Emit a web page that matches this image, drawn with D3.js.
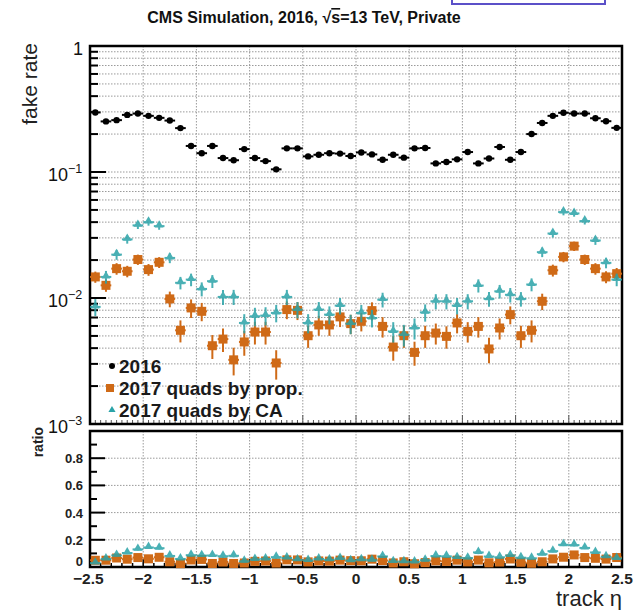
<!DOCTYPE html>
<html>
<head>
<meta charset="utf-8">
<script src="https://cdn.jsdelivr.net/npm/d3@7"></script>
<style>
  body { margin: 0; background: #fff; }
  text { font-family: "Liberation Sans", Arial, sans-serif; }
</style>
</head>
<body>
<script>
// 1. DATA
// ======================================

// bin centres in track eta (bins of 0.1)
var etaCenters = [-2.45, -2.35, -2.25, -2.15, -2.05, -1.95, -1.85, -1.75, -1.65, -1.55,
  -1.45, -1.35, -1.25, -1.15, -1.05, -0.95, -0.85, -0.75, -0.65, -0.55,
  -0.45, -0.35, -0.25, -0.15, -0.05, 0.05, 0.15, 0.25, 0.35, 0.45,
  0.55, 0.65, 0.75, 0.85, 0.95, 1.05, 1.15, 1.25, 1.35, 1.45,
  1.55, 1.65, 1.75, 1.85, 1.95, 2.05, 2.15, 2.25, 2.35, 2.45];

// fake rate 2016
var fake2016 = [0.297, 0.252, 0.258, 0.284, 0.291, 0.279, 0.269, 0.256, 0.223, 0.161,
  0.141, 0.161, 0.129, 0.124, 0.152, 0.129, 0.122, 0.105, 0.154, 0.154,
  0.133, 0.137, 0.141, 0.140, 0.134, 0.143, 0.138, 0.125, 0.137, 0.130,
  0.154, 0.155, 0.117, 0.120, 0.126, 0.144, 0.117, 0.128, 0.158, 0.125,
  0.144, 0.200, 0.245, 0.279, 0.295, 0.291, 0.291, 0.267, 0.253, 0.224];

// fake rate 2017 quads by propagation
var quadsProp = [0.0147, 0.0126, 0.0171, 0.0163, 0.0202, 0.0168, 0.0192, 0.00984, 0.00554, 0.00834,
  0.00784, 0.00418, 0.00472, 0.00323, 0.00448, 0.00537, 0.00537, 0.00305, 0.00809, 0.00798,
  0.00502, 0.00611, 0.00611, 0.00708, 0.00626, 0.00653, 0.00794, 0.00595, 0.00408, 0.00502,
  0.00370, 0.00502, 0.00527, 0.00496, 0.00634, 0.00543, 0.00595, 0.00394, 0.00578, 0.00738,
  0.00502, 0.00554, 0.00942, 0.0166, 0.0212, 0.0258, 0.0202, 0.0171, 0.0147, 0.0156];
var quadsPropErr = [0.0015, 0.0014, 0.0018, 0.0017, 0.0019, 0.0018, 0.0019, 0.0014, 0.0011, 0.0014,
  0.0013, 0.0009, 0.0010, 0.0008, 0.0010, 0.0011, 0.0011, 0.0008, 0.0013, 0.0013,
  0.0010, 0.0011, 0.0011, 0.0012, 0.0011, 0.0011, 0.0013, 0.0011, 0.0009, 0.0010,
  0.0008, 0.0010, 0.0010, 0.0010, 0.0011, 0.0010, 0.0011, 0.0009, 0.0011, 0.0012,
  0.0010, 0.0011, 0.0014, 0.0018, 0.0020, 0.0022, 0.0019, 0.0018, 0.0016, 0.0017];

// fake rate 2017 quads by CA
var quadsCA = [0.0085, 0.0147, 0.0221, 0.0292, 0.0377, 0.0400, 0.0372, 0.0208, 0.0132, 0.0140,
  0.0118, 0.0136, 0.0102, 0.0102, 0.00634, 0.00716, 0.00725, 0.00761, 0.0102, 0.00809,
  0.00634, 0.00809, 0.00738, 0.00870, 0.00626, 0.00761, 0.00694, 0.00971, 0.00543, 0.00512,
  0.00578, 0.00769, 0.00942, 0.00942, 0.00870, 0.00942, 0.01255, 0.00984, 0.0113, 0.0106,
  0.00984, 0.0128, 0.0231, 0.0325, 0.0481, 0.0469, 0.0408, 0.0286, 0.0190, 0.0140];
var quadsCAErr = [0.0013, 0.0017, 0.0020, 0.0022, 0.0024, 0.0025, 0.0024, 0.0019, 0.0015, 0.0016,
  0.0015, 0.0016, 0.0014, 0.0014, 0.0011, 0.0012, 0.0012, 0.0012, 0.0014, 0.0012,
  0.0011, 0.0012, 0.0012, 0.0013, 0.0011, 0.0012, 0.0011, 0.0013, 0.0010, 0.0010,
  0.0011, 0.0012, 0.0013, 0.0013, 0.0013, 0.0013, 0.0015, 0.0013, 0.0014, 0.0014,
  0.0013, 0.0015, 0.0020, 0.0023, 0.0028, 0.0027, 0.0025, 0.0022, 0.0018, 0.0016];

// tick labels
var xTicks = [-2.5, -2, -1.5, -1, -0.5, 0, 0.5, 1, 1.5, 2, 2.5];
var xTickLabels = ["\u22122.5", "\u22122", "\u22121.5", "\u22121", "\u22120.5", "0", "0.5", "1", "1.5", "2", "2.5"];
var yDecades = [1, 0.1, 0.01, 0.001];
var yDecadeExp = ["", "\u22121", "\u22122", "\u22123"];
var ratioTicks = [0, 0.2, 0.4, 0.6, 0.8];
var ratioTickLabels = ["0", "0.2", "0.4", "0.6", "0.8"];

var legendLabels = ["2016", "2017 quads by prop.", "2017 quads by CA"];

// 2. SET UP SVG
// ======================================
var svgWidth = 636;
var svgHeight = 610;

var colBlack = "#000000";
var colOrange = "#cf6a17";
var colTeal = "#2aa3a8";
var gridCol = "#9a9a9a";

var svg = d3.select("body")
  .append("svg")
  .attr("width", svgWidth)
  .attr("height", svgHeight);

var xLeft = 90, xRight = 622;
var topY0 = 46, topY1 = 424;
var ratY0 = 431, ratY1 = 567;

var x = d3.scaleLinear().domain([-2.5, 2.5]).range([xLeft, xRight]);
var y = d3.scaleLog().domain([0.001, 1]).range([topY1, topY0]);
var yr = d3.scaleLinear().domain([0, 1]).range([ratY1, ratY0]);

var halfBin = 0.05;

// 3. GRIDS
// ======================================
var gridG = svg.append("g")
  .attr("stroke", gridCol)
  .attr("stroke-width", 1)
  .attr("stroke-dasharray", "1.5,1.5");

// top panel horizontal (every log minor)
gridG.selectAll("line.gy")
  .data(y.ticks().filter(d => d > 0.001 && d < 1))
  .enter().append("line")
  .attr("x1", xLeft).attr("x2", xRight)
  .attr("y1", d => y(d)).attr("y2", d => y(d));

// top panel vertical
gridG.selectAll("line.gx")
  .data(xTicks.slice(1, -1))
  .enter().append("line")
  .attr("x1", d => x(d)).attr("x2", d => x(d))
  .attr("y1", topY0).attr("y2", topY1);

// ratio panel
gridG.selectAll("line.ry")
  .data(ratioTicks.slice(1))
  .enter().append("line")
  .attr("x1", xLeft).attr("x2", xRight)
  .attr("y1", d => yr(d)).attr("y2", d => yr(d));

gridG.selectAll("line.rx")
  .data(xTicks.slice(1, -1))
  .enter().append("line")
  .attr("x1", d => x(d)).attr("x2", d => x(d))
  .attr("y1", ratY0).attr("y2", ratY1);

// 4. AXES (ticks inside, ROOT style)
// ======================================
var axG = svg.append("g").attr("stroke", "#000");

// top panel: y ticks
axG.selectAll("line.ymaj")
  .data(yDecades)
  .enter().append("line")
  .attr("x1", xLeft).attr("x2", xLeft + 16)
  .attr("y1", d => y(d)).attr("y2", d => y(d))
  .attr("stroke-width", 2);
axG.selectAll("line.ymin")
  .data(y.ticks().filter(d => yDecades.indexOf(d) < 0))
  .enter().append("line")
  .attr("x1", xLeft).attr("x2", xLeft + 8)
  .attr("y1", d => y(d)).attr("y2", d => y(d))
  .attr("stroke-width", 2);

// top panel: x ticks on bottom edge
var xFine = d3.range(0, 101).map(i => -2.5 + i * 0.05);
axG.selectAll("line.xt")
  .data(xFine)
  .enter().append("line")
  .attr("x1", d => x(d)).attr("x2", d => x(d))
  .attr("y1", topY1)
  .attr("y2", (d, i) => topY1 - (i % 10 === 0 ? 9 : 4))
  .attr("stroke-width", 1)
  .attr("stroke", "#555");

// ratio panel: y ticks
axG.selectAll("line.rmaj")
  .data(ratioTicks)
  .enter().append("line")
  .attr("x1", xLeft).attr("x2", xLeft + 15)
  .attr("y1", d => yr(d)).attr("y2", d => yr(d))
  .attr("stroke-width", 2);
axG.selectAll("line.rmin")
  .data([0.1, 0.3, 0.5, 0.7, 0.9])
  .enter().append("line")
  .attr("x1", xLeft).attr("x2", xLeft + 7)
  .attr("y1", d => yr(d)).attr("y2", d => yr(d))
  .attr("stroke-width", 2);

// ratio panel: x ticks
axG.selectAll("line.rxt")
  .data(d3.range(0, 51).map(i => -2.5 + i * 0.1))
  .enter().append("line")
  .attr("x1", d => x(d)).attr("x2", d => x(d))
  .attr("y1", ratY1)
  .attr("y2", (d, i) => ratY1 - (i % 5 === 0 ? 8 : 4))
  .attr("stroke-width", 1.5);

// frames
svg.append("rect")
  .attr("x", xLeft).attr("y", topY0)
  .attr("width", xRight - xLeft).attr("height", topY1 - topY0)
  .attr("fill", "none").attr("stroke", "#000").attr("stroke-width", 2.5);
svg.append("rect")
  .attr("x", xLeft).attr("y", ratY0)
  .attr("width", xRight - xLeft).attr("height", ratY1 - ratY0)
  .attr("fill", "none").attr("stroke", "#000").attr("stroke-width", 2.5);

// tick labels, top panel
var yLab = svg.append("g").selectAll("text")
  .data(yDecades)
  .enter().append("text")
  .attr("x", 84)
  .attr("y", d => y(d) + 9)
  .attr("text-anchor", "end")
  .attr("font-size", 18)
  .attr("fill", "#111");
yLab.each(function(d, i) {
  var t = d3.select(this);
  if (i === 0) {
    t.attr("x", 83).text("1");
  } else {
    t.attr("x", 68).text("10");
    svg.append("text")
      .attr("x", 68).attr("y", y(d) + 1)
      .attr("font-size", 12.5)
      .attr("fill", "#111")
      .text(yDecadeExp[i]);
  }
});

// tick labels, ratio panel
svg.append("g").selectAll("text")
  .data(ratioTicks)
  .enter().append("text")
  .attr("x", 83)
  .attr("y", d => yr(d) + (d === 0 ? -1 : 5))
  .attr("text-anchor", "end")
  .attr("font-size", 13)
  .attr("font-weight", "bold")
  .attr("fill", "#222")
  .text((d, i) => ratioTickLabels[i]);

// x tick labels
svg.append("g").selectAll("text")
  .data(xTicks)
  .enter().append("text")
  .attr("x", d => x(d))
  .attr("y", ratY1 + 17)
  .attr("text-anchor", d => d === -2.5 ? "start" : "middle")
  .attr("dx", d => d === -2.5 ? -17 : 0)
  .attr("font-size", 15.5)
  .attr("font-weight", "bold")
  .attr("fill", "#222")
  .text((d, i) => xTickLabels[i]);

// axis titles
svg.append("text")
  .attr("transform", "translate(37, 43) rotate(-90)")
  .attr("text-anchor", "end")
  .attr("font-size", 21)
  .attr("fill", "#222")
  .text("fake rate");

svg.append("text")
  .attr("transform", "translate(43, 427) rotate(-90)")
  .attr("text-anchor", "end")
  .attr("font-size", 14)
  .attr("font-weight", "bold")
  .attr("fill", "#222")
  .text("ratio");

svg.append("text")
  .attr("x", 622).attr("y", 606)
  .attr("text-anchor", "end")
  .attr("font-size", 22)
  .attr("fill", "#222")
  .text("track \u03b7");

// title
var title = svg.append("text")
  .attr("x", 304).attr("y", 23)
  .attr("text-anchor", "middle")
  .attr("font-size", 16)
  .attr("font-weight", "bold")
  .attr("fill", "#111");
title.append("tspan").text("CMS Simulation, 2016,  \u221a");
title.append("tspan").style("text-decoration", "overline").text("s");
title.append("tspan").text("=13 TeV, Private");

// clipped box at top right
svg.append("rect")
  .attr("x", 452).attr("y", -10)
  .attr("width", 153).attr("height", 14)
  .attr("fill", "#fff")
  .attr("stroke", "#5b50c8")
  .attr("stroke-width", 2);

// 5. DATA MARKS
// ======================================
var pts = etaCenters.map(function(eta, i) {
  return {
    eta: eta,
    b: fake2016[i],
    p: quadsProp[i], pe: quadsPropErr[i],
    c: quadsCA[i], ce: quadsCAErr[i]
  };
});

function drawSeries(g, data, getY, getErr, color, shape) {
  // x error bars
  g.selectAll("line.xe")
    .data(data).enter().append("line")
    .attr("x1", d => x(d.eta - halfBin))
    .attr("x2", d => x(d.eta + halfBin))
    .attr("y1", d => getY(d)).attr("y2", d => getY(d))
    .attr("stroke", color).attr("stroke-width", 2);
  // y error bars
  if (getErr) {
    g.selectAll("line.ye")
      .data(data).enter().append("line")
      .attr("x1", d => x(d.eta)).attr("x2", d => x(d.eta))
      .attr("y1", d => getErr(d)[0]).attr("y2", d => getErr(d)[1])
      .attr("stroke", color).attr("stroke-width", 2);
  }
  if (shape === "circle") {
    g.selectAll("circle")
      .data(data).enter().append("circle")
      .attr("cx", d => x(d.eta)).attr("cy", d => getY(d))
      .attr("r", 3.2).attr("fill", color);
  } else if (shape === "square") {
    g.selectAll("rect")
      .data(data).enter().append("rect")
      .attr("x", d => x(d.eta) - 4.5).attr("y", d => getY(d) - 4.5)
      .attr("width", 9).attr("height", 9).attr("fill", color);
  } else {
    g.selectAll("path")
      .data(data).enter().append("path")
      .attr("d", d3.symbol().type(d3.symbolTriangle).size(32))
      .attr("transform", d => `translate(${x(d.eta)}, ${getY(d) - 1})`)
      .attr("fill", color);
  }
}

// top panel
drawSeries(svg.append("g"), pts, d => y(d.b), null, colBlack, "circle");
drawSeries(svg.append("g"), pts, d => y(d.p),
  d => [y(d.p - d.pe), y(d.p + d.pe)], colOrange, "square");
drawSeries(svg.append("g").attr("opacity", 0.85), pts, d => y(d.c),
  d => [y(d.c - d.ce), y(d.c + d.ce)], colTeal, "triangle");

// ratio panel (quads / 2016)
drawSeries(svg.append("g"), pts, d => yr(d.p / d.b),
  d => [yr((d.p - d.pe) / d.b), yr((d.p + d.pe) / d.b)], colOrange, "square");
drawSeries(svg.append("g").attr("opacity", 0.85), pts, d => yr(d.c / d.b),
  d => [yr((d.c - d.ce) / d.b), yr((d.c + d.ce) / d.b)], colTeal, "triangle");

// 6. LEGEND
// ======================================
var legendG = svg.append("g");
var legY = [366, 388, 410];

legendG.append("circle").attr("cx", 112).attr("cy", legY[0]).attr("r", 3).attr("fill", colBlack);
legendG.append("rect").attr("x", 106).attr("y", legY[1] - 4).attr("width", 8).attr("height", 8).attr("fill", colOrange);
legendG.append("path")
  .attr("d", d3.symbol().type(d3.symbolTriangle).size(22))
  .attr("transform", `translate(112, ${legY[2]})`)
  .attr("fill", colTeal);

legendG.selectAll("text")
  .data(legendLabels)
  .enter().append("text")
  .attr("x", 119)
  .attr("y", (d, i) => legY[i] + 7)
  .attr("font-size", 19)
  .attr("font-weight", "bold")
  .attr("fill", "#1a1a1a")
  .text(d => d);
</script>
</body>
</html>
